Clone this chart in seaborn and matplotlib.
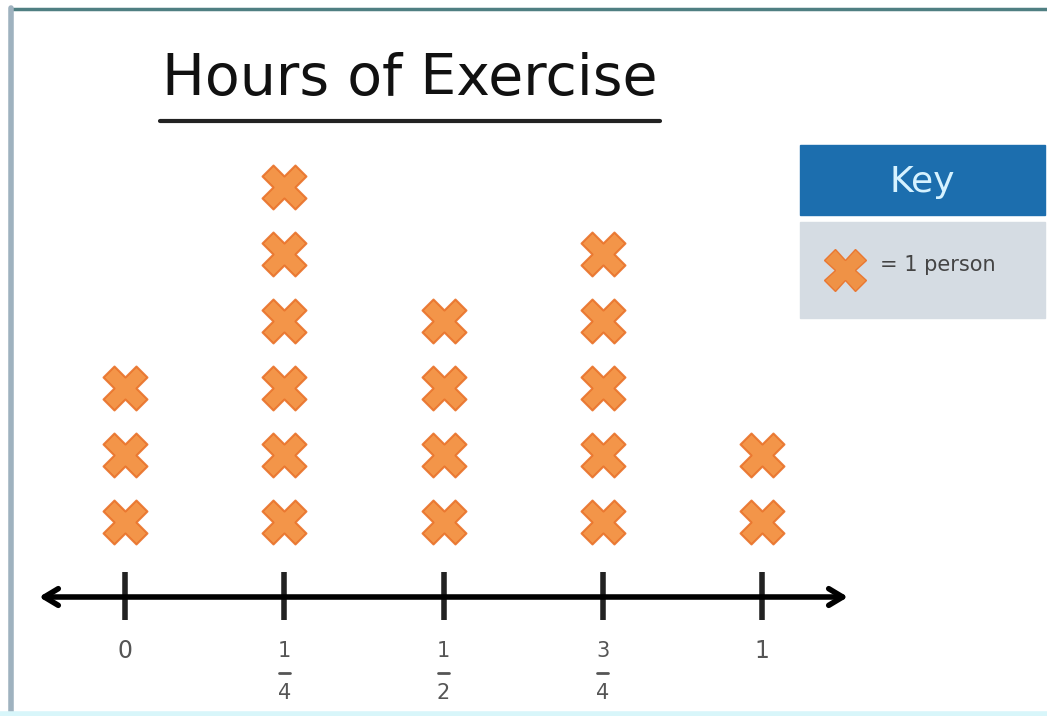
import numpy as np
import pandas as pd
import matplotlib
matplotlib.use("Agg")
import matplotlib.pyplot as plt
import seaborn as sns
from matplotlib.patches import Rectangle

# данные: часы упражнений и число людей
hours = [0, 0.25, 0.5, 0.75, 1]
counts = [3, 6, 4, 5, 2]
tick_num = ["0", "1", "1", "3", "1"]
tick_den = [None, "4", "2", "4", None]

title = "Hours of Exercise"
key_title = "Key"
key_text = "= 1 person"

ORANGE = "#F28A35"
FONT = ["DejaVu Sans"]

# одна точка на человека, стопкой
rows = []
for h, c in zip(hours, counts):
    for k in range(1, c + 1):
        rows.append({"hours": h, "level": k})
df = pd.DataFrame(rows)

sns.set_style("white")
plt.rcParams["font.family"] = FONT

fig = plt.figure(figsize=(10.47, 7.16), dpi=100)
ax = fig.add_axes([0, 0, 1, 1])

# пиксели -> единицы данных: x=0 на 125px, x=1 на 762px; уровень 1 на 522px, шаг 67px
px_unit = 637.0
ax.set_xlim(-125 / px_unit, (1047 - 125) / px_unit)
ax.set_ylim(1 - 194 / 67.0, 1 + 522 / 67.0)
ax.axis("off")

sns.scatterplot(data=df, x="hours", y="level", marker="X", s=1000,
                color=ORANGE, edgecolor="#E9722A", linewidth=1.5,
                alpha=0.9, legend=False, ax=ax)

# числовая ось
y_axis = 1 - (597 - 522) / 67.0
ax.annotate("", xy=(-86 / px_unit, y_axis), xytext=(723 / px_unit, y_axis),
            arrowprops=dict(arrowstyle="<->,head_length=1.0,head_width=0.6",
                            color="black", lw=4, shrinkA=0, shrinkB=0))
tick_lo = 1 - (620 - 522) / 67.0
tick_hi = 1 - (572 - 522) / 67.0
for h in hours:
    ax.plot([h, h], [tick_lo, tick_hi], color="#222222", lw=4, solid_capstyle="butt")

# подписи делений (дроби)
y_num = 1 - (651 - 522) / 67.0
y_bar = 1 - (673 - 522) / 67.0
y_den = 1 - (693 - 522) / 67.0
for h, n, d in zip(hours, tick_num, tick_den):
    if d is None:
        ax.text(h, y_num, n, ha="center", va="center", fontsize=17, color="#555555")
    else:
        ax.text(h, y_num, n, ha="center", va="center", fontsize=15, color="#555555")
        ax.plot([h - 0.009, h + 0.009], [y_bar, y_bar], color="#555555", lw=2)
        ax.text(h, y_den, d, ha="center", va="center", fontsize=15, color="#555555")

# заголовок с подчёркиванием
fig.text(410 / 1047, 1 - 80 / 716, title, ha="center", va="center",
         fontsize=41, color="#111111")
fig.add_artist(plt.Line2D([160 / 1047, 660 / 1047], [1 - 121 / 716, 1 - 121 / 716],
                          color="#222222", lw=3))

# ключ
fig.add_artist(Rectangle((800 / 1047, 1 - 215 / 716), 245 / 1047, 70 / 716,
                         transform=fig.transFigure, color="#1C6EAE", zorder=1))
fig.text(922 / 1047, 1 - 182 / 716, key_title, ha="center", va="center",
         fontsize=26, color="#D6F2FF")
fig.add_artist(Rectangle((800 / 1047, 1 - 318 / 716), 245 / 1047, 96 / 716,
                         transform=fig.transFigure, color="#D5DCE3", zorder=1))
fig.add_artist(plt.Line2D([845 / 1047], [1 - 270 / 716], marker="X", markersize=30,
                          color=ORANGE, markeredgecolor="#E9722A", alpha=0.9))
fig.text(880 / 1047, 1 - 265 / 716, key_text, ha="left", va="center",
         fontsize=15, color="#444444")

# рамка картинки
fig.add_artist(plt.Line2D([12 / 1047, 1], [1 - 9 / 716, 1 - 9 / 716], color="#4F7F82", lw=2.5))
fig.add_artist(plt.Line2D([11 / 1047, 11 / 1047], [0, 1 - 8 / 716], color="#9FB2BF", lw=4))
fig.add_artist(plt.Line2D([0, 1], [2 / 716, 2 / 716], color="#D8F6FA", lw=4))

plt.savefig("out.png", dpi=100, facecolor="white")
